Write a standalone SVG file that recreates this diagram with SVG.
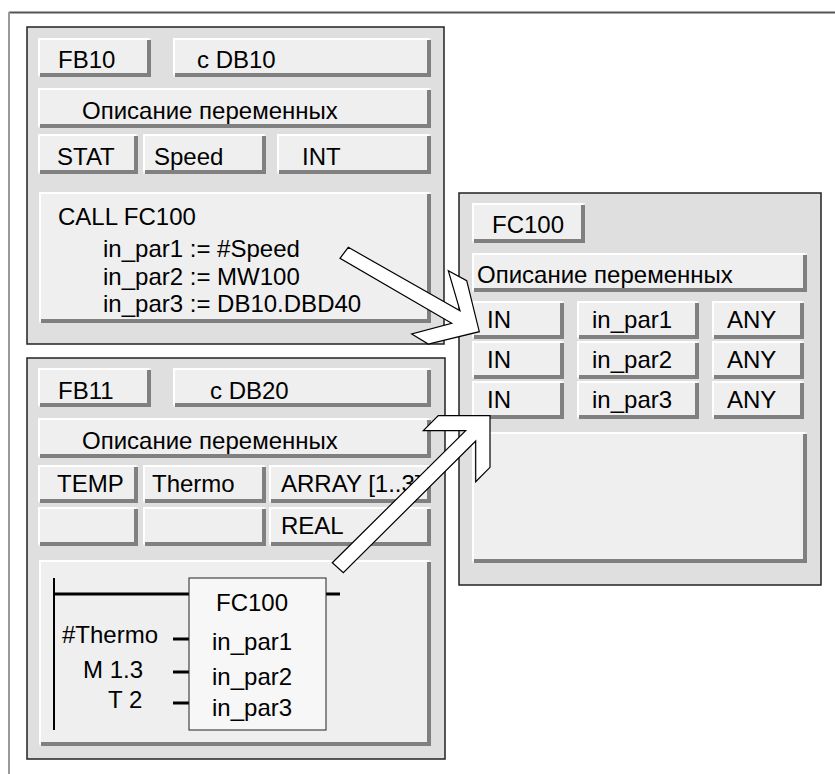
<svg xmlns="http://www.w3.org/2000/svg" width="835" height="774" viewBox="0 0 835 774">
<style>
.panel{fill:#dfdfdf;stroke:#222;stroke-width:1.5}
.bf{fill:#efefef}
.hl{fill:none;stroke:#fff;stroke-width:2}
.sh{fill:none;stroke:#808080;stroke-width:4}
.arrow{fill:#fff;stroke:#000;stroke-width:1.2;stroke-linejoin:miter}
.ln{stroke:#000;fill:none}
text{font-family:"Liberation Sans",Arial,sans-serif;font-size:24px;fill:#000}
</style>
<rect x="0" y="0" width="835" height="774" fill="#fff"/>
<g id="frame">
<line x1="9" y1="12.5" x2="835" y2="12.5" stroke="#555" stroke-width="2"/>
<line x1="9" y1="12" x2="9" y2="774" stroke="#9a9a9a" stroke-width="2"/>
</g>
<g id="fb10">
<rect class="panel" x="27" y="27" width="417" height="317"/>
<rect class="bf" x="38" y="38" width="113" height="39"/><path class="hl" d="M39,75V39H149"/><path class="sh" d="M40,75H149V40"/>
<text x="58" y="68">FB10</text>
<rect class="bf" x="173" y="38" width="258" height="39"/><path class="hl" d="M174,75V39H429"/><path class="sh" d="M175,75H429V40"/>
<text x="197" y="68">c DB10</text>
<rect class="bf" x="38" y="88" width="393" height="40"/><path class="hl" d="M39,126V89H429"/><path class="sh" d="M40,126H429V90"/>
<text x="82" y="119">Описание переменных</text>
<rect class="bf" x="38" y="134" width="100" height="40"/><path class="hl" d="M39,172V135H136"/><path class="sh" d="M40,172H136V136"/>
<text x="57" y="165">STAT</text>
<rect class="bf" x="143" y="134" width="123" height="40"/><path class="hl" d="M144,172V135H264"/><path class="sh" d="M145,172H264V136"/>
<text x="154" y="165">Speed</text>
<rect class="bf" x="277" y="134" width="154" height="40"/><path class="hl" d="M278,172V135H429"/><path class="sh" d="M279,172H429V136"/>
<text x="302" y="165">INT</text>
<rect class="bf" x="39" y="192" width="392" height="131"/><path class="hl" d="M40,321V193H429"/><path class="sh" d="M41,321H429V194"/>
<text x="58" y="225">CALL FC100</text>
<text x="103" y="257">in_par1 := #Speed</text>
<text x="103" y="285">in_par2 := MW100</text>
<text x="103" y="312">in_par3 := DB10.DBD40</text>
</g>
<g id="fb11">
<rect class="panel" x="27" y="358" width="418" height="401"/>
<rect class="bf" x="38" y="368" width="113" height="39"/><path class="hl" d="M39,405V369H149"/><path class="sh" d="M40,405H149V370"/>
<text x="58" y="399">FB11</text>
<rect class="bf" x="173" y="368" width="258" height="39"/><path class="hl" d="M174,405V369H429"/><path class="sh" d="M175,405H429V370"/>
<text x="210" y="399">c DB20</text>
<rect class="bf" x="38" y="418" width="393" height="40"/><path class="hl" d="M39,456V419H429"/><path class="sh" d="M40,456H429V420"/>
<text x="82" y="449">Описание переменных</text>
<rect class="bf" x="38" y="465" width="100" height="38"/><path class="hl" d="M39,501V466H136"/><path class="sh" d="M40,501H136V467"/>
<text x="57" y="492">TEMP</text>
<rect class="bf" x="143" y="465" width="123" height="38"/><path class="hl" d="M144,501V466H264"/><path class="sh" d="M145,501H264V467"/>
<text x="152" y="492">Thermo</text>
<rect class="bf" x="269" y="465" width="162" height="38"/><path class="hl" d="M270,501V466H429"/><path class="sh" d="M271,501H429V467"/>
<text x="281" y="492">ARRAY [1..3]</text>
<rect class="bf" x="38" y="507" width="100" height="39"/><path class="hl" d="M39,544V508H136"/><path class="sh" d="M40,544H136V509"/>
<rect class="bf" x="143" y="507" width="123" height="39"/><path class="hl" d="M144,544V508H264"/><path class="sh" d="M145,544H264V509"/>
<rect class="bf" x="269" y="507" width="162" height="39"/><path class="hl" d="M270,544V508H429"/><path class="sh" d="M271,544H429V509"/>
<text x="281" y="534">REAL</text>
<rect class="bf" x="39" y="560" width="392" height="186"/><path class="hl" d="M40,744V561H429"/><path class="sh" d="M41,744H429V562"/>
<line class="ln" x1="54" y1="578" x2="54" y2="730" stroke-width="2"/>
<line class="ln" x1="54" y1="594" x2="340" y2="594" stroke-width="3"/>
<line class="ln" x1="173" y1="639" x2="189" y2="639" stroke-width="3"/>
<line class="ln" x1="173" y1="672" x2="189" y2="672" stroke-width="3"/>
<line class="ln" x1="173" y1="703" x2="189" y2="703" stroke-width="3"/>
<rect x="189" y="578" width="137" height="152" fill="#f7f7f7" stroke="#222" stroke-width="1"/>
<text x="216" y="611">FC100</text>
<text x="212" y="650">in_par1</text>
<text x="212" y="685">in_par2</text>
<text x="212" y="716">in_par3</text>
<text x="62" y="643">#Thermo</text>
<text x="83" y="678">M 1.3</text>
<text x="108" y="708">T 2</text>
</g>
<g id="fc100">
<rect class="panel" x="459" y="193" width="362" height="392"/>
<rect class="bf" x="472" y="203" width="113" height="40"/><path class="hl" d="M473,241V204H583"/><path class="sh" d="M474,241H583V205"/>
<text x="492" y="233">FC100</text>
<rect class="bf" x="472" y="253" width="335" height="39"/><path class="hl" d="M473,290V254H805"/><path class="sh" d="M474,290H805V255"/>
<text x="477" y="283">Описание переменных</text>
<rect class="bf" x="472" y="301" width="92" height="38"/><path class="hl" d="M473,337V302H562"/><path class="sh" d="M474,337H562V303"/>
<rect class="bf" x="577" y="301" width="122" height="38"/><path class="hl" d="M578,337V302H697"/><path class="sh" d="M579,337H697V303"/>
<rect class="bf" x="712" y="301" width="92" height="38"/><path class="hl" d="M713,337V302H802"/><path class="sh" d="M714,337H802V303"/>
<text x="487" y="328">IN</text><text x="592" y="328">in_par1</text><text x="727" y="328">ANY</text>
<rect class="bf" x="472" y="341" width="92" height="38"/><path class="hl" d="M473,377V342H562"/><path class="sh" d="M474,377H562V343"/>
<rect class="bf" x="577" y="341" width="122" height="38"/><path class="hl" d="M578,377V342H697"/><path class="sh" d="M579,377H697V343"/>
<rect class="bf" x="712" y="341" width="92" height="38"/><path class="hl" d="M713,377V342H802"/><path class="sh" d="M714,377H802V343"/>
<text x="487" y="368">IN</text><text x="592" y="368">in_par2</text><text x="727" y="368">ANY</text>
<rect class="bf" x="472" y="381" width="92" height="38"/><path class="hl" d="M473,417V382H562"/><path class="sh" d="M474,417H562V383"/>
<rect class="bf" x="577" y="381" width="122" height="38"/><path class="hl" d="M578,417V382H697"/><path class="sh" d="M579,417H697V383"/>
<rect class="bf" x="712" y="381" width="92" height="38"/><path class="hl" d="M713,417V382H802"/><path class="sh" d="M714,417H802V383"/>
<text x="487" y="408">IN</text><text x="592" y="408">in_par3</text><text x="727" y="408">ANY</text>
<rect class="bf" x="472" y="432" width="335" height="131"/><path class="hl" d="M473,561V433H805"/><path class="sh" d="M474,561H805V434"/>
</g>
<g id="connectors">
<polygon class="arrow" points="348.3,247.3 460,310.7 448.3,270.7 466.7,280.7 479.3,331.7 428.3,344 411.7,334 451.7,323.3 340,258.3"/>
<polygon class="arrow" points="332.3,562.7 465.7,430.7 423.3,430.7 438.3,415.7 490,415.7 490,467.3 475.7,481.7 475.7,441 343.3,572.7"/>
</g>
</svg>
